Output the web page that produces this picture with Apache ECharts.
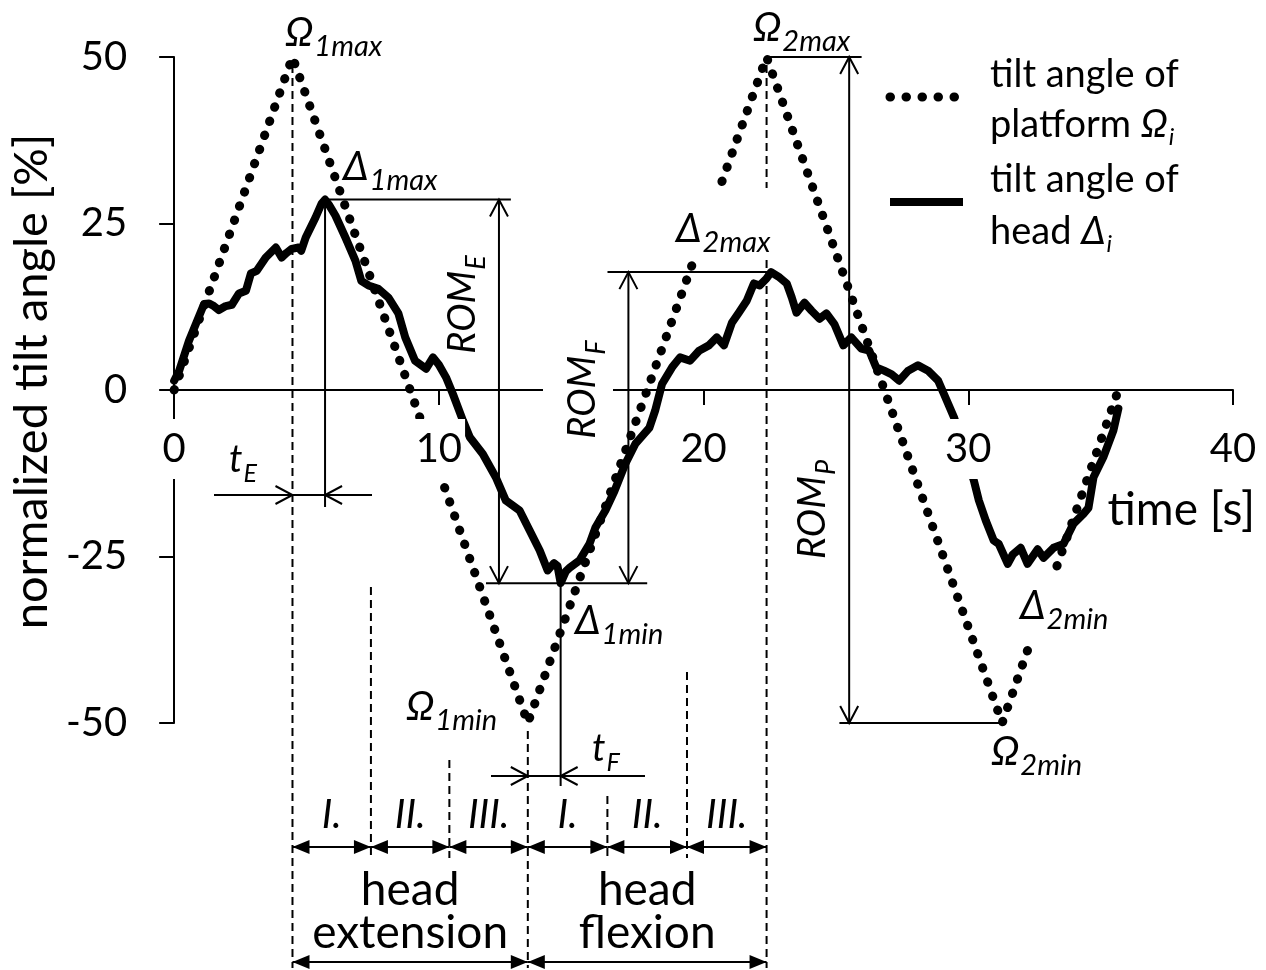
<!DOCTYPE html>
<html>
<head>
<meta charset="utf-8">
<script src="https://cdn.jsdelivr.net/npm/echarts@6/dist/echarts.min.js"></script>
<style>
  html, body { margin: 0; padding: 0; background: #fff; }
  #chart { width: 1266px; height: 970px; }
</style>
</head>
<body>
<div id="chart"></div>
<script>
const FONT = 'Lato, "Open Sans", sans-serif';

// tilt angle of platform Ω (corners of the triangle wave)
const platformTime = [0, 4.47, 13.36, 22.38, 31.28, 35.67];
const platformTilt = [0, 50, -50, 50, -50, 0];

// tilt angle of head Δ
const headTime = [0.00,0.19,0.56,0.87,1.13,1.32,1.50,1.69,1.95,2.18,
  2.45,2.71,2.90,3.12,3.46,3.84,4.06,4.25,4.44,4.70,
  4.80,4.97,5.34,5.57,5.70,5.85,6.09,6.47,6.85,7.07,
  7.34,7.71,8.09,8.47,8.73,9.10,9.52,9.78,10.00,10.27,
  10.53,10.91,11.17,11.66,12.15,12.53,13.05,13.43,13.81,14.11,
  14.35,14.48,14.60,14.80,14.94,15.31,15.69,15.91,16.29,16.63,
  17.04,17.42,17.95,18.17,18.43,18.81,19.11,19.49,19.83,20.20,
  20.50,20.77,21.07,21.33,21.63,21.90,22.12,22.37,22.55,22.87,
  23.14,23.33,23.51,23.81,24.08,24.38,24.64,24.94,25.28,25.58,
  25.96,26.26,26.52,26.82,27.09,27.39,27.73,28.10,28.48,28.86,
  29.08,29.46,30.21,30.40,30.66,30.96,31.15,31.49,31.68,31.98,
  32.24,32.62,32.84,33.22,33.60,33.97,34.35,34.54,34.73,35.10,
  35.48,35.67];
const headTilt = [1.4,2.9,7.4,10.4,12.9,13.0,12.6,12.0,12.6,12.8,
  14.5,14.9,17.5,17.9,19.9,21.4,19.9,20.6,21.2,21.4,
  20.9,22.9,25.9,28.0,28.6,27.8,26.2,22.9,19.4,16.4,
  15.7,15.2,13.9,11.5,7.9,4.4,3.2,4.9,3.8,1.9,
  -0.6,-4.6,-7.1,-9.6,-13.1,-16.6,-18.1,-21.1,-24.1,-27.1,
  -26.0,-26.4,-29.0,-27.2,-26.7,-25.6,-23.1,-20.7,-18.1,-15.2,
  -11.1,-8.1,-5.7,-3.1,0.9,3.4,4.9,4.4,5.9,6.7,
  7.9,6.7,10.1,11.6,13.4,16.0,15.7,16.7,17.7,16.9,
  16.0,13.9,11.6,13.1,11.9,10.7,11.5,9.9,6.7,7.9,
  6.2,5.9,3.4,2.9,2.4,1.4,2.9,3.7,2.9,1.4,
  -0.6,-4.1,-13.6,-16.6,-19.6,-22.6,-23.1,-26.1,-24.7,-23.7,
  -26.1,-23.9,-25.2,-23.7,-23.1,-20.1,-18.6,-17.7,-13.1,-10.1,
  -6.1,-2.8];

const phaseNames = ['I.', 'II.', 'III.'];
const movementNames = [['head', 'extension'], ['head', 'flexion']];

const chart = echarts.init(document.getElementById('chart'));

// grid is 666 px tall for -50..50, so the time axis sits half way up
chart.setOption({
  animation: false,
  backgroundColor: '#fff',
  textStyle: { fontFamily: FONT, color: '#000' },
  grid: { left: 170, right: 33, top: 57, bottom: 247 },
  xAxis: {
    type: 'value', min: 0, max: 40, interval: 10, z: 5,
    position: 'bottom', offset: -333,
    name: 'time [s]', nameLocation: 'end', nameGap: 22,
    nameTextStyle: { fontSize: 46, color: '#000', align: 'right', verticalAlign: 'top', padding: [97, 0, 0, 0] },
    axisLine: { onZero: false, lineStyle: { color: '#000', width: 2 } },
    axisTick: { length: 15, lineStyle: { color: '#000', width: 2 } },
    axisLabel: { fontSize: 40, color: '#000', margin: 29, backgroundColor: '#fff', padding: [10, 3, 10, 3] },
    splitLine: { show: false }
  },
  yAxis: {
    type: 'value', min: -50, max: 50, interval: 25, z: 1,
    name: 'normalized tilt angle [%]', nameLocation: 'middle', nameGap: 109,
    nameTextStyle: { fontSize: 47, color: '#000', padding: [0, 0, 0, 17] },
    axisLine: { show: true, onZero: false, lineStyle: { color: '#000', width: 2 } },
    axisTick: { show: true, length: 15, lineStyle: { color: '#000', width: 2 } },
    axisLabel: { fontSize: 40, color: '#000', margin: 47 },
    splitLine: { show: false }
  },
  series: [
    {
      name: 'tilt angle of platform Ω', type: 'line', symbol: 'none', z: 3,
      data: platformTime.map((t, i) => [t, platformTilt[i]]),
      lineStyle: { color: '#000', width: 9, type: [0.5, 14.5], cap: 'round' }
    },
    {
      name: 'tilt angle of head Δ', type: 'line', symbol: 'none', z: 4,
      data: headTime.map((t, i) => [t, headTilt[i]]),
      lineStyle: { color: '#000', width: 8, join: 'round', cap: 'round' }
    }
  ]
});

// ---- annotations ----
const ctx = document.createElement('canvas').getContext('2d');
function measure(str, font) { ctx.font = font; return ctx.measureText(str).width; }
const P = (t, v) => chart.convertToPixel({ gridIndex: 0 }, [t, v]);

function extreme(from, to, sign) {
  let best = null;
  headTime.forEach((t, i) => {
    if (t < from || t > to) return;
    if (best === null || sign * headTilt[i] > sign * headTilt[best]) best = i;
  });
  return [headTime[best], headTilt[best]];
}

const g = [];
function seg(x1, y1, x2, y2, dashed) {
  g.push({ type: 'line', z: 30, shape: { x1, y1, x2, y2 },
    style: { stroke: '#000', lineWidth: 2, lineDash: dashed ? [8, 5] : null } });
}
function openHead(x, y, dx, dy) {
  const L = 17, W = 9, bx = x - dx * L, by = y - dy * L, nx = -dy, ny = dx;
  g.push({ type: 'polyline', z: 30, shape: { points: [[bx + nx * W, by + ny * W], [x, y], [bx - nx * W, by - ny * W]] },
    style: { stroke: '#000', lineWidth: 2, fill: null } });
}
function solidHead(x, y, dx, dy) {
  const L = 17, W = 7, bx = x - dx * L, by = y - dy * L, nx = -dy, ny = dx;
  g.push({ type: 'polygon', z: 30, shape: { points: [[bx + nx * W, by + ny * W], [x, y], [bx - nx * W, by - ny * W]] },
    style: { fill: '#000' } });
}
function box(x, y, w, h) {
  g.push({ type: 'rect', z: 40, shape: { x, y, width: w, height: h }, style: { fill: '#fff' } });
}
function txt(text, x, y, font, align) {
  return { type: 'text', z: 50, style: { text, x, y, font, fill: '#000',
    align: align || 'left', textAlign: align || 'left', verticalAlign: 'middle', textVerticalAlign: 'middle' } };
}
function subLabel(x, cy, main, s, size, subSize, drop) {
  const mf = 'italic ' + (size || 40) + 'px ' + FONT;
  const sf = 'italic ' + (subSize || 29) + 'px ' + FONT;
  const w = measure(main, mf);
  return [txt(main, x, cy, mf), txt(s, x + w + 1, cy + (drop || 14), sf)];
}
function rotLabel(cx, cy, main, s) {
  const mf = 'italic 38px ' + FONT, sf = 'italic 27px ' + FONT;
  const w = measure(main, mf), ws = measure(s, sf), x0 = -(w + ws) / 2;
  g.push({ type: 'group', x: cx, y: cy, rotation: Math.PI / 2, z: 50,
    children: [txt(main, x0, 0, mf), txt(s, x0 + w + 1, 13, sf)] });
}

function drawAnnotations() {
  const o1max = P(platformTime[1], platformTilt[1]);
  const o1min = P(platformTime[2], platformTilt[2]);
  const o2max = P(platformTime[3], platformTilt[3]);
  const o2min = P(platformTime[4], platformTilt[4]);
  const d1max = P(...extreme(0, 10, 1));
  const d1min = P(...extreme(10, 20, -1));
  const d2max = P(...extreme(18, 28, 1));
  const xAt = t => P(t, 0)[0];

  // phase boundaries: thirds of each platform half-cycle
  const bounds = [];
  for (let k = 0; k <= 3; k++) bounds.push(platformTime[1] + k * (platformTime[2] - platformTime[1]) / 3);
  for (let k = 1; k <= 3; k++) bounds.push(platformTime[2] + k * (platformTime[3] - platformTime[2]) / 3);
  const bx = bounds.map(xAt);

  // dashed phase lines
  const innerTop = { 1: 587, 2: 760, 4: 796, 5: 672 };
  bx.forEach((x, i) => {
    if (i % 3 === 0) {
      const top = i === 3 ? o1min[1] + 8 : o1max[1] + 8;
      seg(x, top, x, 968, true);
    } else {
      seg(x, innerTop[i], x, 858, true);
    }
  });

  // phase arrows + labels
  const rowY = 847;
  for (let i = 0; i < 6; i++) {
    seg(bx[i], rowY, bx[i + 1], rowY);
    solidHead(bx[i], rowY, -1, 0);
    solidHead(bx[i + 1], rowY, 1, 0);
    g.push(txt(phaseNames[i % 3], (bx[i] + bx[i + 1]) / 2, 815, 'italic 40px ' + FONT, 'center'));
  }
  [[0, 3], [3, 6]].forEach(([a, b], j) => {
    seg(bx[a], 962, bx[b], 962);
    solidHead(bx[a], 962, -1, 0);
    solidHead(bx[b], 962, 1, 0);
    const cx = (bx[a] + bx[b]) / 2;
    g.push(txt(movementNames[j][0], cx, 890, '46px ' + FONT, 'center'));
    g.push(txt(movementNames[j][1], cx, 933, '46px ' + FONT, 'center'));
  });

  // t_E
  seg(d1max[0], d1max[1], d1max[0], 507);
  seg(214, 495, 372, 495);
  openHead(o1max[0], 495, 1, 0);
  openHead(d1max[0], 495, -1, 0);
  g.push(...subLabel(229, 460, 't', 'E', 38, 25, 14));
  // t_F
  seg(d1min[0], d1min[1], d1min[0], 786);
  seg(491, 776, 645, 776);
  openHead(o1min[0], 776, 1, 0);
  openHead(d1min[0], 776, -1, 0);
  g.push(...subLabel(592, 749, 't', 'F', 38, 25, 14));

  // ROM_E
  const xE = xAt(12.27);
  seg(d1max[0], d1max[1], xAt(12.72), d1max[1]);
  seg(xAt(11.78), d1min[1], xAt(17.87), d1min[1]);
  seg(xE, d1max[1], xE, d1min[1]);
  openHead(xE, d1max[1], 0, -1);
  openHead(xE, d1min[1], 0, 1);
  rotLabel(463, 305, 'ROM', 'E');
  // ROM_F
  const xF = xAt(17.16);
  seg(xAt(16.37), d2max[1], d2max[0], d2max[1]);
  seg(xF, d2max[1], xF, d1min[1]);
  openHead(xF, d2max[1], 0, -1);
  openHead(xF, d1min[1], 0, 1);
  box(543, 335, 70, 110);
  rotLabel(583, 390, 'ROM', 'F');
  // ROM_P
  const xP = xAt(25.5);
  seg(o2max[0], o2max[1], xAt(25.97), o2max[1]);
  seg(xAt(25.13), o2min[1], o2min[0], o2min[1]);
  seg(xP, o2max[1], xP, o2min[1]);
  openHead(xP, o2max[1], 0, -1);
  openHead(xP, o2min[1], 0, 1);
  rotLabel(813, 510, 'ROM', 'P');

  // extreme labels
  g.push(...subLabel(285, 33, 'Ω', '1max'));
  g.push(...subLabel(343, 167, 'Δ', '1max'));
  g.push(...subLabel(753, 28, 'Ω', '2max'));
  box(672, 188, 108, 70);
  g.push(...subLabel(676, 229, 'Δ', '2max'));
  g.push(...subLabel(575, 621, 'Δ', '1min'));
  g.push(...subLabel(406, 707, 'Ω', '1min'));
  box(1015, 572, 100, 70);
  g.push(...subLabel(1020, 606, 'Δ', '2min'));
  g.push(...subLabel(991, 752, 'Ω', '2min'));

  // legend
  g.push({ type: 'line', z: 30, shape: { x1: 890, y1: 97, x2: 956, y2: 97 },
    style: { stroke: '#000', lineWidth: 9, lineDash: [0.5, 15.5], lineCap: 'round' } });
  g.push({ type: 'line', z: 30, shape: { x1: 890, y1: 202, x2: 963, y2: 202 },
    style: { stroke: '#000', lineWidth: 8 } });
  const lf = '38px ' + FONT;
  g.push(txt('tilt angle of', 990, 75, lf));
  g.push(txt('platform ', 990, 125, lf));
  g.push(...subLabel(990 + measure('platform ', lf), 125, 'Ω', 'i', 38, 24, 12));
  g.push(txt('tilt angle of', 990, 180, lf));
  g.push(txt('head ', 990, 232, lf));
  g.push(...subLabel(990 + measure('head ', lf), 232, 'Δ', 'i', 38, 24, 12));

  chart.setOption({ graphic: { elements: g } });
}

drawAnnotations();
</script>
</body>
</html>
